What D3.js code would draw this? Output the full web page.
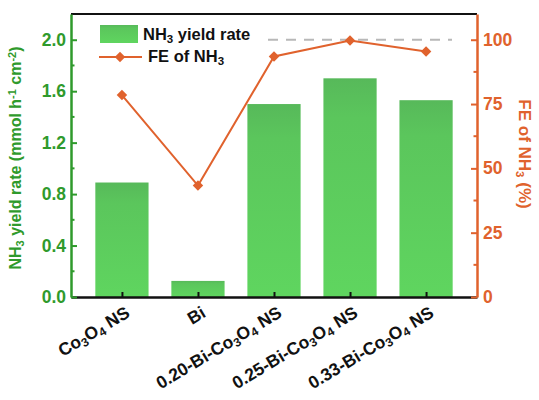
<!DOCTYPE html>
<html>
<head>
<meta charset="utf-8">
<script src="https://cdn.jsdelivr.net/npm/d3@7"></script>
<style>
  html, body { margin: 0; padding: 0; background: #fff; }
  svg { display: block; font-family: "Liberation Sans", Arial, sans-serif; font-weight: bold; }
</style>
</head>
<body>
<svg id="chart" width="539" height="400"></svg>
<script>
// Catalysts (x categories); each label is a list of [text, isSubscript] pieces
const categories = ["Co3O4 NS", "Bi", "0.20-Bi-Co3O4 NS", "0.25-Bi-Co3O4 NS", "0.33-Bi-Co3O4 NS"];
const categoryLabels = [
  [["Co", 0], ["3", 1], ["O", 0], ["4", 1], [" NS", 0]],
  [["Bi", 0]],
  [["0.20-Bi-Co", 0], ["3", 1], ["O", 0], ["4", 1], [" NS", 0]],
  [["0.25-Bi-Co", 0], ["3", 1], ["O", 0], ["4", 1], [" NS", 0]],
  [["0.33-Bi-Co", 0], ["3", 1], ["O", 0], ["4", 1], [" NS", 0]]
];
// NH3 yield rate (mmol h-1 cm-2)
const yieldRate = [0.89, 0.125, 1.50, 1.70, 1.53];
// Faradaic efficiency of NH3 (%)
const faradaicEff = [78.5, 43.3, 93.5, 99.7, 95.4];
const leftTicks = [0.0, 0.4, 0.8, 1.2, 1.6, 2.0];
const leftMinor = [0.2, 0.6, 1.0, 1.4, 1.8];
const rightTicks = [0, 25, 50, 75, 100];
const rightMinor = [12.5, 37.5, 62.5, 87.5];
const referenceFE = 100;

const green = "#2f9a2c", orange = "#e0622d";
const FONT = "Liberation Sans, Arial, sans-serif";
const svg = d3.select("#chart");
const m = { left: 71, right: 477, top: 14, bottom: 297 };

const x = d3.scalePoint().domain(categories).range([m.left, m.right]).padding(0.67);
const barW = x.step() * 0.7;
const yL = d3.scaleLinear().domain([0, 2.2]).range([m.bottom, m.top]);
const yR = d3.scaleLinear().domain([0, 110]).range([m.bottom, m.top]);

// bar gradient: slightly deeper green at the top
const defs = svg.append("defs");
const grad = defs.append("linearGradient").attr("id", "barGrad")
  .attr("x1", 0).attr("y1", 0).attr("x2", 0).attr("y2", 1);
grad.append("stop").attr("offset", "0%").attr("stop-color", "#57b95a");
grad.append("stop").attr("offset", "18%").attr("stop-color", "#5bc65c");
grad.append("stop").attr("offset", "100%").attr("stop-color", "#5fd55f");

// bars
svg.append("g").selectAll("rect").data(yieldRate).join("rect")
  .attr("x", (d, i) => x(categories[i]) - barW / 2)
  .attr("width", barW)
  .attr("y", d => yL(d))
  .attr("height", d => yL(0) - yL(d))
  .attr("fill", "url(#barGrad)");

// 100 % reference line
svg.append("line")
  .attr("x1", 268).attr("x2", 452)
  .attr("y1", yR(referenceFE)).attr("y2", yR(referenceFE))
  .attr("stroke", "#b8b8b8").attr("stroke-width", 2).attr("stroke-dasharray", "10,8");

// FE line + diamonds
const pts = faradaicEff.map((v, i) => [x(categories[i]), yR(v)]);
svg.append("path").datum(pts)
  .attr("d", d3.line())
  .attr("fill", "none").attr("stroke", orange).attr("stroke-width", 2);
const diamond = d3.symbol().type(d3.symbolDiamond2).size(70);
svg.append("g").selectAll("path").data(pts).join("path")
  .attr("d", diamond)
  .attr("transform", d => `translate(${d[0]},${d[1]})`)
  .attr("fill", orange);

// frame: top border
svg.append("line").attr("x1", m.left).attr("x2", m.right).attr("y1", m.top).attr("y2", m.top)
  .attr("stroke", "#111").attr("stroke-width", 2);

// bottom axis
const xAxis = svg.append("g").attr("transform", `translate(0,${m.bottom})`)
  .call(d3.axisBottom(x).tickSizeInner(-5).tickSizeOuter(0).tickFormat(""));
xAxis.select(".domain").attr("stroke", "#111").attr("stroke-width", 2.5);
xAxis.selectAll(".tick line").attr("stroke", "#111").attr("stroke-width", 2);

// category labels
const lbl = svg.append("g").selectAll("text").data(categoryLabels).join("text")
  .attr("transform", (d, i) => `translate(${x(categories[i]) + 9},${m.bottom + 19}) rotate(-31)`)
  .attr("text-anchor", "end")
  .attr("font-size", 17.5)
  .attr("fill", "#111");
lbl.each(function (parts) {
  const t = d3.select(this);
  parts.forEach(([s, sub]) => {
    t.append("tspan").text(s)
      .attr("font-size", sub ? 12 : 17.5)
      .attr("baseline-shift", sub ? "-25%" : null);
  });
});

// left axis
const la = svg.append("g").attr("transform", `translate(${m.left},0)`)
  .call(d3.axisLeft(yL).tickValues(leftTicks).tickSizeInner(-6).tickSizeOuter(0)
    .tickPadding(5).tickFormat(d3.format(".1f")));
la.select(".domain").attr("stroke", green).attr("stroke-width", 2.5);
la.selectAll(".tick line").attr("stroke", green).attr("stroke-width", 2);
la.selectAll(".tick text").attr("fill", green).attr("font-size", 17.5)
  .attr("font-family", FONT).attr("font-weight", "bold");
svg.append("g").selectAll("line").data(leftMinor).join("line")
  .attr("x1", m.left).attr("x2", m.left + 3.5)
  .attr("y1", d => yL(d)).attr("y2", d => yL(d))
  .attr("stroke", green).attr("stroke-width", 2);

// right axis
const ra = svg.append("g").attr("transform", `translate(${m.right},0)`)
  .call(d3.axisRight(yR).tickValues(rightTicks).tickSizeInner(-6).tickSizeOuter(0)
    .tickPadding(6));
ra.select(".domain").attr("stroke", orange).attr("stroke-width", 2.5);
ra.selectAll(".tick line").attr("stroke", orange).attr("stroke-width", 2);
ra.selectAll(".tick text").attr("fill", orange).attr("font-size", 17.5)
  .attr("font-family", FONT).attr("font-weight", "bold");
svg.append("g").selectAll("line").data(rightMinor).join("line")
  .attr("x1", m.right).attr("x2", m.right - 3.5)
  .attr("y1", d => yR(d)).attr("y2", d => yR(d))
  .attr("stroke", orange).attr("stroke-width", 2);

// axis titles
const lt = svg.append("text")
  .attr("transform", `translate(21,158) rotate(-90)`)
  .attr("text-anchor", "middle").attr("font-size", 16).attr("fill", green);
lt.append("tspan").text("NH");
lt.append("tspan").text("3").attr("font-size", 11).attr("baseline-shift", "-25%");
lt.append("tspan").text(" yield rate (mmol h");
lt.append("tspan").text("-1").attr("font-size", 11).attr("baseline-shift", "45%");
lt.append("tspan").text(" cm");
lt.append("tspan").text("-2").attr("font-size", 11).attr("baseline-shift", "45%");
lt.append("tspan").text(")");

const rt = svg.append("text")
  .attr("transform", `translate(519,154) rotate(90)`)
  .attr("text-anchor", "middle").attr("font-size", 17).attr("fill", orange);
rt.append("tspan").text("FE of NH");
rt.append("tspan").text("3").attr("font-size", 11.5).attr("baseline-shift", "-25%");
rt.append("tspan").text(" (%)");

// legend
const lg = svg.append("g");
lg.append("rect").attr("x", 100).attr("y", 25).attr("width", 38).attr("height", 18).attr("fill", "url(#barGrad)");
const l1 = lg.append("text").attr("x", 143).attr("y", 40).attr("font-size", 16.5).attr("fill", "#111");
l1.append("tspan").text("NH");
l1.append("tspan").text("3").attr("font-size", 11.5).attr("baseline-shift", "-25%");
l1.append("tspan").text(" yield rate");
lg.append("line").attr("x1", 99).attr("x2", 142).attr("y1", 57).attr("y2", 57)
  .attr("stroke", orange).attr("stroke-width", 2);
lg.append("path").attr("d", diamond).attr("transform", "translate(120,57)").attr("fill", orange);
const l2 = lg.append("text").attr("x", 148).attr("y", 62).attr("font-size", 16.5).attr("fill", "#111");
l2.append("tspan").text("FE of NH");
l2.append("tspan").text("3").attr("font-size", 11.5).attr("baseline-shift", "-25%");
</script>
</body>
</html>
